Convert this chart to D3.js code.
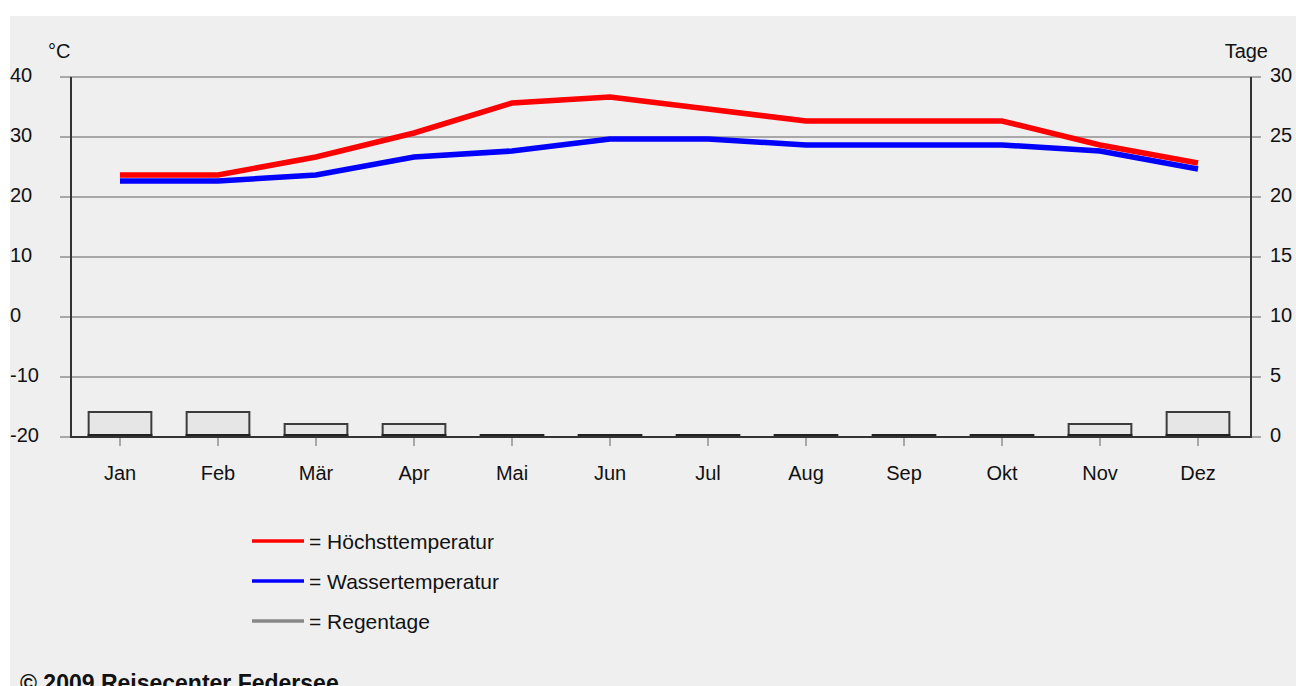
<!DOCTYPE html>
<html>
<head>
<meta charset="utf-8">
<script src="https://cdn.jsdelivr.net/npm/d3@7"></script>
<style>
  html, body { margin: 0; padding: 0; background: #ffffff; overflow: hidden; }
</style>
</head>
<body>
<div id="chart"></div>
<script>
const months = ["Jan", "Feb", "Mär", "Apr", "Mai", "Jun", "Jul", "Aug", "Sep", "Okt", "Nov", "Dez"];
const maxTemp = [24, 24, 27, 31, 36, 37, 35, 33, 33, 33, 29, 26];
const waterTemp = [23, 23, 24, 27, 28, 30, 30, 29, 29, 29, 28, 25];
const rainDays = [2, 2, 1, 1, 0, 0, 0, 0, 0, 0, 1, 2];
const tempTicks = [-20, -10, 0, 10, 20, 30, 40];
const dayTicks = [0, 5, 10, 15, 20, 25, 30];
const legendItems = [
    { label: "= Höchsttemperatur", color: "#ff0000" },
    { label: "= Wassertemperatur", color: "#0000ff" },
    { label: "= Regentage", color: "#888888" }
];

class ClimateChart {

    constructor(section) {
        this.section = section;
        this.width = 1296;
        this.height = 686;
        this.font = "'Liberation Sans', Arial, sans-serif";

        // plot box
        this.left = 71;
        this.right = 1251;
        this.top = 77;
        this.bottom = 437;

        this.init();
    }

    init() {
        this.svg = d3.select(this.section)
                     .append("svg")
                     .attr("width", this.width)
                     .attr("height", this.height);

        // grey panel
        this.svg.append("rect")
            .attr("x", 10)
            .attr("y", 16)
            .attr("width", this.width - 10)
            .attr("height", this.height - 16)
            .attr("fill", "#efefef");

        this.x = d3.scaleBand()
            .domain(months)
            .range([this.left, this.right - 4])
            .paddingInner(0.36)
            .paddingOuter(0.18);

        this.yTemp = d3.scaleLinear().domain([-20, 40]).range([this.bottom, this.top]);
        this.yDays = d3.scaleLinear().domain([0, 30]).range([this.bottom, this.top]);

        this.drawGrid();
        this.drawBars();
        this.drawAxes();
        this.drawLines();
        this.drawLegend();
    }

    drawGrid() {
        this.svg.append("g")
            .selectAll("line")
            .data(tempTicks)
            .enter()
            .append("line")
            .attr("x1", this.left - 11)
            .attr("x2", this.right + 10)
            .attr("y1", d => this.yTemp(d))
            .attr("y2", d => this.yTemp(d))
            .attr("stroke", "#a8a8a8")
            .attr("stroke-width", 2);
    }

    drawBars() {
        const g = this.svg.append("g");

        g.selectAll("rect")
            .data(rainDays)
            .enter()
            .append("rect")
            .attr("x", (d, i) => this.x(months[i]))
            .attr("y", d => this.yDays(d) - 1)
            .attr("width", this.x.bandwidth())
            .attr("height", d => this.bottom - this.yDays(d))
            .attr("fill", "#e6e6e6")
            .attr("stroke", "#3c3c3c")
            .attr("stroke-width", d => d > 0 ? 2 : 0);

        // dark foot of every bar (zero days show only this)
        g.selectAll("line")
            .data(rainDays)
            .enter()
            .append("line")
            .attr("x1", (d, i) => this.x(months[i]) - 1)
            .attr("x2", (d, i) => this.x(months[i]) + this.x.bandwidth() + 1)
            .attr("y1", this.bottom - 1.5)
            .attr("y2", this.bottom - 1.5)
            .attr("stroke", "#222")
            .attr("stroke-width", 3);
    }

    drawAxes() {
        const g = this.svg.append("g");
        const text = (sel) => sel
            .attr("font-family", this.font)
            .attr("font-size", 20)
            .attr("fill", "#111");

        // left / right / bottom axis lines
        g.append("path")
            .attr("d", `M${this.left},${this.top}V${this.bottom}H${this.right}V${this.top}`)
            .attr("fill", "none")
            .attr("stroke", "#333")
            .attr("stroke-width", 2);

        // month ticks
        g.selectAll(".mtick")
            .data(months)
            .enter()
            .append("line")
            .attr("x1", d => this.x(d) + this.x.bandwidth() / 2)
            .attr("x2", d => this.x(d) + this.x.bandwidth() / 2)
            .attr("y1", this.bottom + 1)
            .attr("y2", this.bottom + 9)
            .attr("stroke", "#a8a8a8")
            .attr("stroke-width", 2);

        g.selectAll(".mlabel")
            .data(months)
            .enter()
            .append("text")
            .attr("x", d => this.x(d) + this.x.bandwidth() / 2)
            .attr("y", this.bottom + 43)
            .attr("text-anchor", "middle")
            .call(text)
            .text(d => d);

        // temperature labels, left
        g.selectAll(".tlabel")
            .data(tempTicks)
            .enter()
            .append("text")
            .attr("x", 10)
            .attr("y", d => this.yTemp(d) + 5)
            .call(text)
            .text(d => d);

        // rain day labels, right
        g.selectAll(".dlabel")
            .data(dayTicks)
            .enter()
            .append("text")
            .attr("x", 1270)
            .attr("y", d => this.yDays(d) + 5)
            .call(text)
            .text(d => d);

        g.append("text").attr("x", 48).attr("y", 58).call(text).text("°C");
        g.append("text").attr("x", 1268).attr("y", 58).attr("text-anchor", "end").call(text).text("Tage");
    }

    drawLines() {
        const line = d3.line()
            .x((d, i) => this.x(months[i]) + this.x.bandwidth() / 2)
            .y(d => this.yTemp(d));

        const g = this.svg.append("g").attr("transform", "translate(0,2)");

        g.append("path")
            .datum(waterTemp)
            .attr("d", line)
            .attr("fill", "none")
            .attr("stroke", "#0000ff")
            .attr("stroke-width", 5.5);

        g.append("path")
            .datum(maxTemp)
            .attr("d", line)
            .attr("fill", "none")
            .attr("stroke", "#ff0000")
            .attr("stroke-width", 5.5);
    }

    drawLegend() {
        const rows = this.svg.selectAll(".legend")
            .data(legendItems)
            .enter()
            .append("g")
            .attr("transform", (d, i) => `translate(252,${541 + i * 40})`);

        rows.append("line")
            .attr("x1", 0)
            .attr("x2", 52)
            .attr("stroke", d => d.color)
            .attr("stroke-width", 3.5);

        rows.append("text")
            .attr("x", 57)
            .attr("y", 8)
            .attr("font-family", this.font)
            .attr("font-size", 21)
            .attr("fill", "#111")
            .text(d => d.label);

        // footer, cut at the bottom edge like the source
        this.svg.append("text")
            .attr("x", 20)
            .attr("y", 691)
            .attr("font-family", this.font)
            .attr("font-size", 23)
            .attr("font-weight", "bold")
            .attr("fill", "#111")
            .text("© 2009 Reisecenter Federsee");
    }
}

new ClimateChart("#chart");
</script>
</body>
</html>
